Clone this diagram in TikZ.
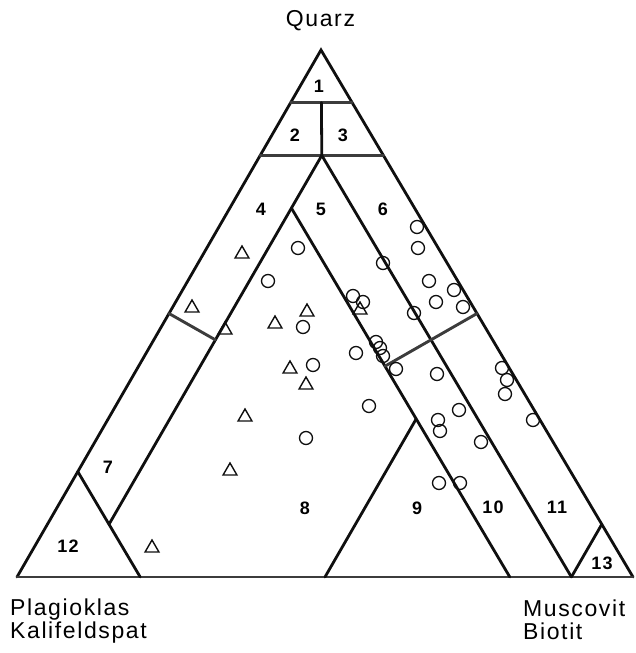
\documentclass[tikz,border=0pt]{standalone}
\usepackage{fontspec}
\setmainfont{Liberation Sans}[LetterSpace=7]
\usepackage{tikz}
\usetikzlibrary{shapes.geometric}
\usepackage{xcolor}
\definecolor{qpblack}{RGB}{15,15,15}
\definecolor{qpgray}{RGB}{60,60,60}
\tikzstyle{edge} = [line width=2.8pt, color=qpblack, line cap=round]
\tikzstyle{grayedge} = [line width=2.9pt, color=qpgray, line cap=round]
\tikzstyle{obs} = [circle, draw=qpblack, line width=1.3pt, minimum size=13pt, inner sep=0pt]
\tikzstyle{tri} = [regular polygon, regular polygon sides=3, draw=qpblack, line width=1.4pt, minimum size=16pt, inner sep=0pt]
\tikzstyle{fieldno} = [font=\fontsize{18}{18}\selectfont\bfseries, inner sep=0pt]
\tikzstyle{corner} = [font=\fontsize{23}{23}\selectfont, align=left, inner sep=0pt]

\begin{document}
\begin{tikzpicture}[x=1pt, y=-1pt]
\useasboundingbox (0,0) rectangle (635,653);

% corners of the triangle
\coordinate (qz) at (321,50);
\coordinate (fsp) at (17,577);
\coordinate (mica) at (633,577);

% points on the field boundaries
\coordinate (q9f) at (barycentric cs:qz=0.9,fsp=0.1,mica=0);
\coordinate (q9m) at (barycentric cs:qz=0.9,fsp=0,mica=0.1);
\coordinate (q9c) at (barycentric cs:qz=0.9,fsp=0.05,mica=0.05);
\coordinate (q8f) at (barycentric cs:qz=0.8,fsp=0.2,mica=0);
\coordinate (q8m) at (barycentric cs:qz=0.8,fsp=0,mica=0.2);
\coordinate (q8c) at (barycentric cs:qz=0.8,fsp=0.1,mica=0.1);
\coordinate (top8) at (barycentric cs:qz=0.7,fsp=0.2,mica=0.1);
\coordinate (m1end) at (barycentric cs:qz=0.1,fsp=0.8,mica=0.1);
\coordinate (f1end) at (barycentric cs:qz=0,fsp=0.1,mica=0.9);
\coordinate (f2end) at (barycentric cs:qz=0,fsp=0.2,mica=0.8);
\coordinate (m5top) at (barycentric cs:qz=0.3,fsp=0.2,mica=0.5);
\coordinate (m5end) at (barycentric cs:qz=0,fsp=0.5,mica=0.5);
\coordinate (qmf) at (barycentric cs:qz=0.4,fsp=0.2,mica=0.4);
\coordinate (qme) at (barycentric cs:qz=0.5,fsp=0,mica=0.5);
\coordinate (qff) at (barycentric cs:qz=0.5,fsp=0.5,mica=0);
\coordinate (qfm) at (barycentric cs:qz=0.45,fsp=0.45,mica=0.1);
\coordinate (c12a) at (barycentric cs:qz=0.2,fsp=0.8,mica=0);
\coordinate (c12b) at (barycentric cs:qz=0,fsp=0.8,mica=0.2);
\coordinate (c13a) at (barycentric cs:qz=0.1,fsp=0,mica=0.9);

% frame and fields
\draw[edge] (fsp) -- (qz) -- (mica);
\draw[grayedge] (fsp) -- (mica);
\draw[grayedge] (q9f) -- (q9m);
\draw[grayedge] (q8f) -- (q8m);
\draw[edge] (q9c) -- (q8c);
\draw[edge] (q8c) -- (m1end);
\draw[edge] (q8c) -- (f1end);
\draw[edge] (top8) -- (f2end);
\draw[edge] (m5top) -- (m5end);
\draw[grayedge] (qmf) -- (qme);
\draw[grayedge] (qff) -- (qfm);
\draw[edge] (c12a) -- (c12b);
\draw[edge] (c13a) -- (f1end);

% field numbers
\node[fieldno] (n1) at (319,86) {1};
\node[fieldno] (n2) at (295,135) {2};
\node[fieldno] (n3) at (343,135) {3};
\node[fieldno] (n4) at (261,209) {4};
\node[fieldno] (n5) at (321,209) {5};
\node[fieldno] (n6) at (383,209) {6};
\node[fieldno] (n7) at (108,467) {7};
\node[fieldno] (n8) at (305,508) {8};
\node[fieldno] (n9) at (417,508) {9};
\node[fieldno] (n10) at (493,507) {10};
\node[fieldno] (n11) at (557,507) {11};
\node[fieldno] (n12) at (68,546) {12};
\node[fieldno] (n13) at (602,563) {13};

% samples
\foreach \x/\y in {298/248, 268/281, 303/327, 313/365, 306/438, 353/296, 363/302,
  417/227, 418/248, 383/263, 429/281, 436/302, 454/290, 463/307, 414/313,
  376/342, 380/348, 383/356, 356/353, 396/369, 437/374, 369/406,
  502/368, 507/380, 505/394, 459/410, 438/420, 440/431, 533/420, 481/442,
  439/483, 460/483}
  \node[obs] at (\x,\y) {};
\foreach \x/\y in {242/254, 192/308, 225/330, 275/324, 307/312, 290/369,
  306/385, 245/417, 230/471, 152/548, 360/310}
  \node[tri] at (\x,\y) {};

% corner names
\node[corner, anchor=base] (quarz) at (320.5,27) {Quarz};
\node[corner, anchor=base west] (feld) at (10,638) {Plagioklas\\Kalifeldspat};
\node[corner, anchor=base west] (glim) at (523,639) {Muscovit\\Biotit};
\end{tikzpicture}
\end{document}
